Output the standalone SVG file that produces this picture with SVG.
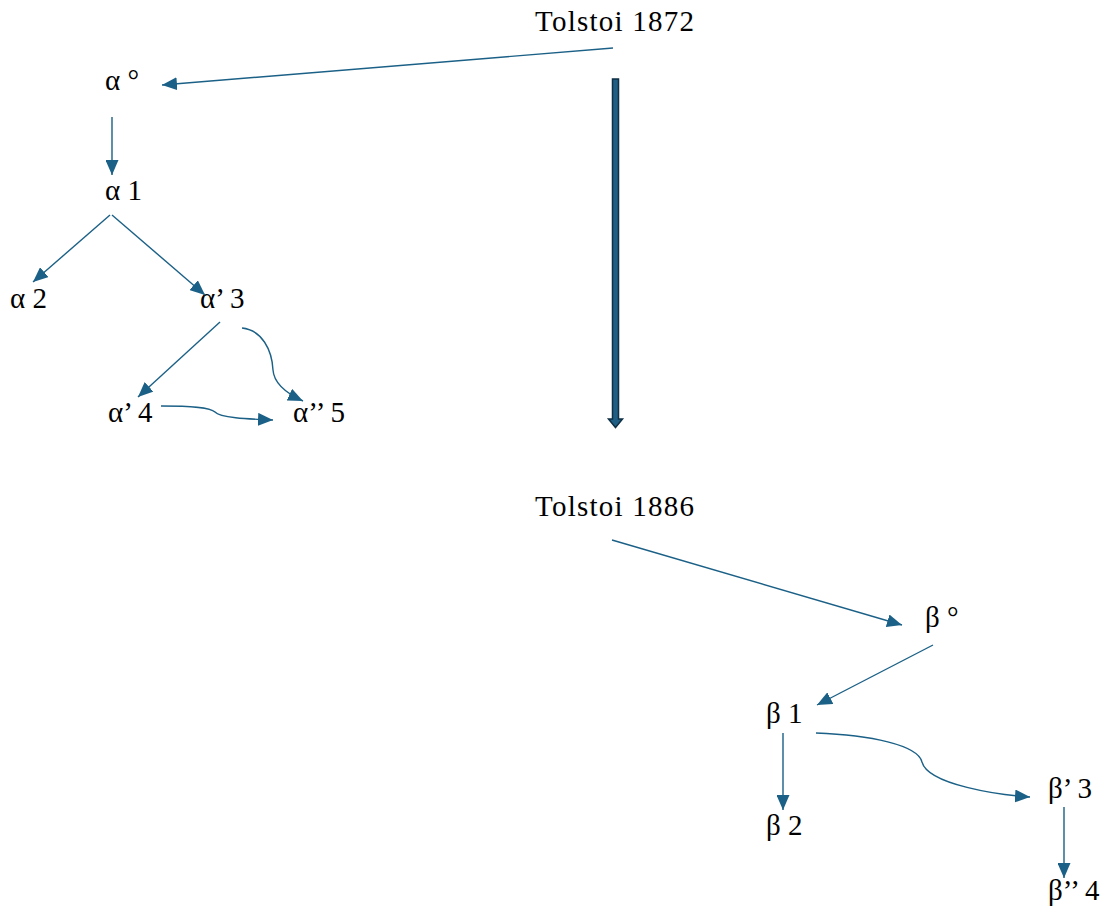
<svg xmlns="http://www.w3.org/2000/svg" width="1109" height="914" viewBox="0 0 1109 914">
<style>
.c{fill:none;stroke:#1B6086;stroke-width:1.4;marker-end:url(#ah)}
</style>
<defs>
<marker id="ah" markerUnits="userSpaceOnUse" markerWidth="15" markerHeight="13" refX="15" refY="6.5" orient="auto" viewBox="0 0 15 13">
<path d="M0,0 L15,6.5 L0,13 z" fill="#1B6086"/>
</marker>
</defs>
<rect width="1109" height="914" fill="#fff"/>
<g font-family="Liberation Serif, Times New Roman, serif" font-size="29" fill="#000">
<g id="n-t1872"><text x="535" y="31" textLength="159">Tolstoi 1872</text></g>
<g id="n-a0"><text x="105" y="90">α °</text></g>
<g id="n-a1"><text x="105" y="200">α 1</text></g>
<g id="n-a2"><text x="10" y="308">α 2</text></g>
<g id="n-a3"><text x="200" y="308">α’ 3</text></g>
<g id="n-a4"><text x="108" y="422">α’ 4</text></g>
<g id="n-a5"><text x="293" y="422">α’’ 5</text></g>
<g id="n-t1886"><text x="535" y="516" textLength="159">Tolstoi 1886</text></g>
<g id="n-b0"><text x="925" y="627">β °</text></g>
<g id="n-b1"><text x="766" y="723">β 1</text></g>
<g id="n-b2"><text x="766" y="835">β 2</text></g>
<g id="n-b3"><text x="1048" y="798">β’ 3</text></g>
<g id="n-b4"><text x="1048" y="900">β’’ 4</text></g>
</g>
<g id="connectors">
<path class="c" d="M613,48 L162,85"/>
<path class="c" d="M112,117 L112,175"/>
<path class="c" d="M110,215 L33,282"/>
<path class="c" d="M112,215 L205,295"/>
<path class="c" d="M220,322 L138,397"/>
<path class="c" d="M242,328 C262,330 272,350 273,370 C274,385 290,395 303,401"/>
<path class="c" d="M161,406 C190,406 210,407 215,412 C220,418 250,419 273,420"/>
<path class="c" d="M612,540 L902,625"/>
<path class="c" d="M933,645 L817,705"/>
<path class="c" d="M783,733 L783,810"/>
<path class="c" d="M816,733 C870,735 918,745 922,762 C928,785 1000,795 1030,797"/>
<path class="c" d="M1064,807 L1064,878"/>
<path d="M612.5,79 L618.5,79 L618.5,419 L622.5,419 L615.5,427.5 L608.5,419 L612.5,419 Z" fill="#1F5F85" stroke="#0E2F44" stroke-width="1.5"/>
</g>
</svg>
